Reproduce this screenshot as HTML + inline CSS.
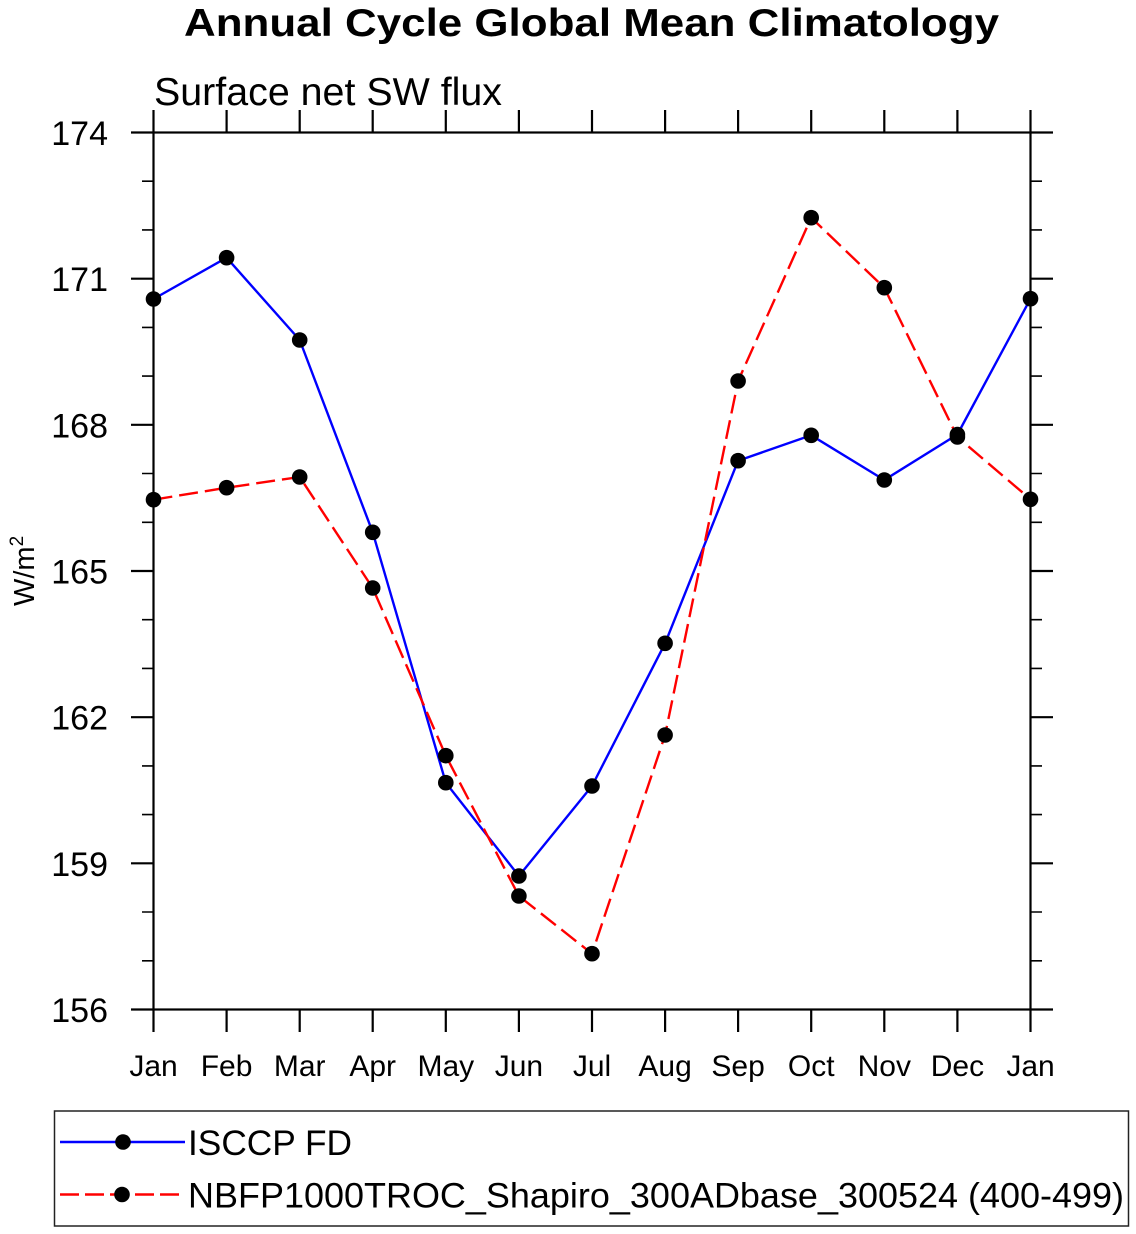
<!DOCTYPE html>
<html><head><meta charset="utf-8"><style>
html,body{margin:0;padding:0;background:#fff;}
svg{display:block;}
text{font-family:"Liberation Sans",Arial,Helvetica,sans-serif;fill:#000;}
</style></head><body>
<svg width="1136" height="1234" viewBox="0 0 1136 1234" xmlns="http://www.w3.org/2000/svg">
<text x="591.5" y="36" font-size="39" font-weight="bold" text-anchor="middle" textLength="815" lengthAdjust="spacingAndGlyphs">Annual Cycle Global Mean Climatology</text>
<text x="154" y="105" font-size="39" textLength="348" lengthAdjust="spacingAndGlyphs">Surface net SW flux</text>

<g stroke="#000" stroke-width="2.2" fill="none">
<rect x="153.5" y="132.5" width="877" height="877"/>
<path d="M153.5 132.5V110M226.6 132.5V110M299.7 132.5V110M372.7 132.5V110M445.8 132.5V110M518.9 132.5V110M592 132.5V110M665.1 132.5V110M738.1 132.5V110M811.2 132.5V110M884.3 132.5V110M957.4 132.5V110M1030.5 132.5V110"/>
<path d="M153.5 1009.5V1032M226.6 1009.5V1032M299.7 1009.5V1032M372.7 1009.5V1032M445.8 1009.5V1032M518.9 1009.5V1032M592 1009.5V1032M665.1 1009.5V1032M738.1 1009.5V1032M811.2 1009.5V1032M884.3 1009.5V1032M957.4 1009.5V1032M1030.5 1009.5V1032"/>
<path d="M131 132.5H153.5M131 278.7H153.5M131 424.8H153.5M131 571H153.5M131 717.2H153.5M131 863.3H153.5M131 1009.5H153.5"/>
<path d="M1030.5 132.5H1053M1030.5 278.7H1053M1030.5 424.8H1053M1030.5 571H1053M1030.5 717.2H1053M1030.5 863.3H1053M1030.5 1009.5H1053"/>
</g>
<g stroke="#000" stroke-width="1.6" fill="none">
<path d="M142 181.2H153.5M142 229.9H153.5M142 327.4H153.5M142 376.1H153.5M142 473.5H153.5M142 522.3H153.5M142 619.7H153.5M142 668.4H153.5M142 765.9H153.5M142 814.6H153.5M142 912H153.5M142 960.8H153.5"/>
<path d="M1030.5 181.2H1042M1030.5 229.9H1042M1030.5 327.4H1042M1030.5 376.1H1042M1030.5 473.5H1042M1030.5 522.3H1042M1030.5 619.7H1042M1030.5 668.4H1042M1030.5 765.9H1042M1030.5 814.6H1042M1030.5 912H1042M1030.5 960.8H1042"/>
</g>

<g font-size="34" text-anchor="end">
<text x="108" y="145">174</text>
<text x="108" y="291.2">171</text>
<text x="108" y="437.3">168</text>
<text x="108" y="583.5">165</text>
<text x="108" y="729.7">162</text>
<text x="108" y="875.8">159</text>
<text x="108" y="1022">156</text>
</g>

<g font-size="30" text-anchor="middle">
<text x="153.5" y="1076">Jan</text>
<text x="226.6" y="1076">Feb</text>
<text x="299.7" y="1076">Mar</text>
<text x="372.7" y="1076">Apr</text>
<text x="445.8" y="1076">May</text>
<text x="518.9" y="1076">Jun</text>
<text x="592" y="1076">Jul</text>
<text x="665.1" y="1076">Aug</text>
<text x="738.1" y="1076">Sep</text>
<text x="811.2" y="1076">Oct</text>
<text x="884.3" y="1076">Nov</text>
<text x="957.4" y="1076">Dec</text>
<text x="1030.5" y="1076">Jan</text>
</g>

<text transform="translate(34,606) rotate(-90)" font-size="29">W/m<tspan dy="-11" font-size="19">2</tspan></text>

<polyline fill="none" stroke="#0000ff" stroke-width="2.4" stroke-linejoin="round" points="153.5,299 226.6,257.7 299.7,340 372.7,532.3 445.8,782.7 518.9,876 592,786 665.1,643.3 738.1,460.7 811.2,435.3 884.3,480 957.4,434.5 1030.5,298.7"/>
<polyline fill="none" stroke="#ff0000" stroke-width="2.4" stroke-dasharray="19,7" points="153.5,499.7 226.6,487.7 299.7,477 372.7,588 445.8,755.7 518.9,896 592,953.7 665.1,735 738.1,381 811.2,217.7 884.3,287.7 957.4,437 1030.5,499.3"/>
<g fill="#000">
<circle cx="153.5" cy="299" r="7.8"/><circle cx="226.6" cy="257.7" r="7.8"/><circle cx="299.7" cy="340" r="7.8"/><circle cx="372.7" cy="532.3" r="7.8"/><circle cx="445.8" cy="782.7" r="7.8"/><circle cx="518.9" cy="876" r="7.8"/><circle cx="592" cy="786" r="7.8"/><circle cx="665.1" cy="643.3" r="7.8"/><circle cx="738.1" cy="460.7" r="7.8"/><circle cx="811.2" cy="435.3" r="7.8"/><circle cx="884.3" cy="480" r="7.8"/><circle cx="957.4" cy="434.5" r="7.8"/><circle cx="1030.5" cy="298.7" r="7.8"/>
<circle cx="153.5" cy="499.7" r="7.8"/><circle cx="226.6" cy="487.7" r="7.8"/><circle cx="299.7" cy="477" r="7.8"/><circle cx="372.7" cy="588" r="7.8"/><circle cx="445.8" cy="755.7" r="7.8"/><circle cx="518.9" cy="896" r="7.8"/><circle cx="592" cy="953.7" r="7.8"/><circle cx="665.1" cy="735" r="7.8"/><circle cx="738.1" cy="381" r="7.8"/><circle cx="811.2" cy="217.7" r="7.8"/><circle cx="884.3" cy="287.7" r="7.8"/><circle cx="957.4" cy="437" r="7.8"/><circle cx="1030.5" cy="499.3" r="7.8"/>
</g>

<rect x="54.5" y="1111" width="1074" height="115" fill="none" stroke="#222" stroke-width="1.5"/>
<line x1="60" y1="1142" x2="185" y2="1142" stroke="#0000ff" stroke-width="2.4"/>
<circle cx="123" cy="1142" r="7.8" fill="#000"/>
<text x="188" y="1155" font-size="35" textLength="164" lengthAdjust="spacingAndGlyphs">ISCCP FD</text>
<line x1="60" y1="1194.5" x2="185" y2="1194.5" stroke="#ff0000" stroke-width="2.4" stroke-dasharray="19,6"/>
<circle cx="122" cy="1194.5" r="7.8" fill="#000"/>
<text x="188" y="1207.5" font-size="35" textLength="936" lengthAdjust="spacingAndGlyphs">NBFP1000TROC_Shapiro_300ADbase_300524 (400-499)</text>
</svg>
</body></html>
